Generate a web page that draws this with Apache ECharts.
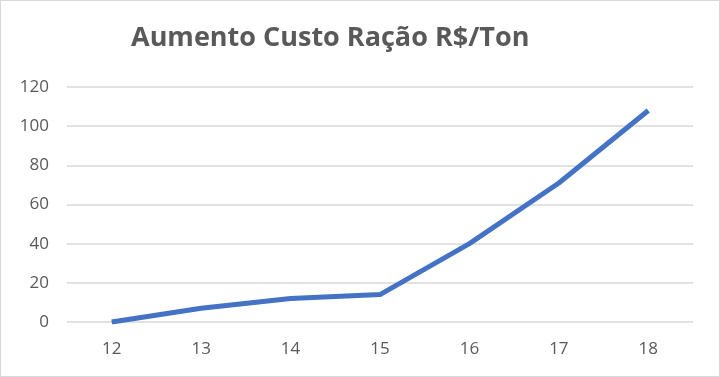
<!DOCTYPE html>
<html><head><meta charset="utf-8">
<script src="https://cdn.jsdelivr.net/npm/echarts@6/dist/echarts.min.js"></script>
<style>
html,body{margin:0;padding:0;background:#fff;}
#c{width:718px;height:375px;border:1px solid #d9d9d9;}
</style></head>
<body><div id="c"></div>
<script>
const titleText = 'Aumento Custo Ração R$/Ton';
const categories = ['12','13','14','15','16','17','18'];
const values = [0, 7, 12, 14, 40, 71, 108];
const chart = echarts.init(document.getElementById('c'));
chart.setOption({
  animation:false,
  title:{text:titleText,left:125,top:19,textStyle:{fontFamily:'Open Sans',fontWeight:'bold',fontSize:27,color:'#595959'}},
  grid:{left:66,right:26,top:86,bottom:54},
  xAxis:{type:'category',data:categories,boundaryGap:true,
    axisLine:{show:false},axisTick:{show:false},
    axisLabel:{color:'#595959',fontSize:17,fontFamily:'Open Sans',margin:19}},
  yAxis:{type:'value',min:0,max:120,interval:20,
    axisLine:{show:false},axisTick:{show:false},
    splitLine:{lineStyle:{color:'#d9d9d9',width:1.5}},
    axisLabel:{color:'#595959',fontSize:17,fontFamily:'Open Sans',margin:18}},
  series:[{type:'line',data:values,showSymbol:false,symbol:'none',
    lineStyle:{color:'#4472C4',width:5,join:'round'},itemStyle:{color:'#4472C4'}}]
});
</script></body></html>
